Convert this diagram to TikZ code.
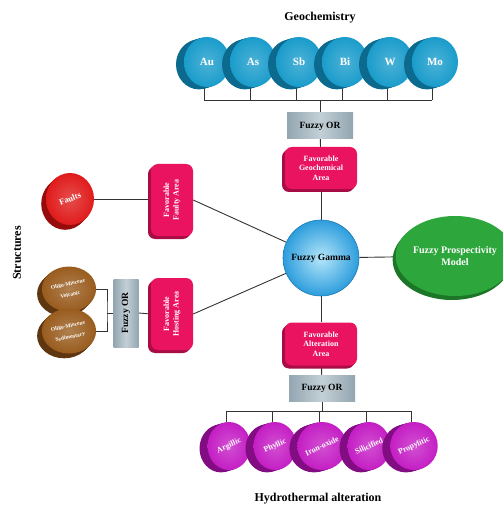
\documentclass[tikz,border=0pt]{standalone}
\usepackage{fontspec}
\setmainfont{Liberation Serif}
\usetikzlibrary{shapes.geometric,shadows,backgrounds}
\definecolor{geoF}{HTML}{1A9CCB}
\definecolor{geoS}{HTML}{0C6A8F}
\definecolor{pinkF}{HTML}{E9135F}
\definecolor{pinkS}{HTML}{A80C45}
\definecolor{orF}{HTML}{93A6B1}
\definecolor{orL}{HTML}{C3CFD6}
\definecolor{gamF}{HTML}{2C9DDC}
\definecolor{gamL}{HTML}{B5E6FA}
\definecolor{gamD}{HTML}{1C78B8}
\definecolor{grF}{HTML}{2DA73B}
\definecolor{grS}{HTML}{1B7627}
\definecolor{redF}{HTML}{E01B1B}
\definecolor{redS}{HTML}{960C0C}
\definecolor{brF}{HTML}{995C1E}
\definecolor{brS}{HTML}{5E3610}
\definecolor{magF}{HTML}{C41EC4}
\definecolor{magS}{HTML}{820C82}
\definecolor{lineC}{HTML}{333333}
\tikzset{
  sideA/.style={general shadow={fill=#1, shadow xshift=-2pt, shadow yshift=-0.6pt},
               general shadow={fill=#1, shadow xshift=-4pt, shadow yshift=-1.2pt},
               general shadow={fill=#1, shadow xshift=-6pt, shadow yshift=-1.8pt},
               general shadow={fill=#1, shadow xshift=-8pt, shadow yshift=-2.4pt}},
  sideB/.style={general shadow={fill=#1, shadow xshift=-1.2pt, shadow yshift=-1.2pt},
               general shadow={fill=#1, shadow xshift=-2.4pt, shadow yshift=-2.4pt},
               general shadow={fill=#1, shadow xshift=-3.6pt, shadow yshift=-3.6pt},
               general shadow={fill=#1, shadow xshift=-4.8pt, shadow yshift=-4.8pt}},
  face/.style={ellipse, inner sep=0pt, text=white, inner color=#1!78!white, outer color=#1},
  favbox/.style={rectangle, rounded corners=7pt, fill=pinkF, text=white, align=center,
               font=\bfseries\fontsize{8}{9.5}\selectfont, inner sep=0pt,
               general shadow={fill=pinkS, shadow xshift=-1.5pt, shadow yshift=-1.5pt},
               general shadow={fill=pinkS, shadow xshift=-3pt, shadow yshift=-3pt}},
  orbox/.style={rectangle, inner sep=0pt, left color=orF, right color=orF, middle color=orL,
               font=\bfseries\fontsize{9.5}{10}\selectfont, text=black},
  conn/.style={draw=lineC, line width=0.9pt},
  title/.style={font=\bfseries\fontsize{12}{13}\selectfont, text=black}
}
\begin{document}
\begin{tikzpicture}[x=1pt,y=-1pt]
\useasboundingbox (0,0) rectangle (502,510);
% titles
\node[title] (tgeo) at (320,18) {Geochemistry};
\node[title] (thyd) at (318,499) {Hydrothermal alteration};
\node[title, rotate=90] (tstr) at (17,253) {Structures};
% geochemistry discs
\foreach \n/\x in {Au/207,As/253,Sb/299,Bi/345,W/390,Mo/435}
  \node[face=geoF, sideA=geoS, minimum width=46pt, minimum height=50pt,
        font=\bfseries\fontsize{11}{12}\selectfont] (\n) at (\x,62) {\n};
\node[orbox, minimum width=66pt, minimum height=26pt] (orTop) at (320,126) {Fuzzy OR};
\node[favbox, minimum width=72pt, minimum height=42pt] (favGeo) at (321,168) {Favorable\\Geochemical\\Area};
% centre
\node[circle, minimum size=76pt, inner sep=0pt, draw=gamD, line width=0.6pt,
      inner color=gamL, outer color=gamF, font=\bfseries\fontsize{9.5}{10}\selectfont] (gamma) at (321,258) {Fuzzy Gamma};
\node[ellipse, minimum width=108pt, minimum height=80pt, inner sep=0pt, fill=grF, text=white, align=center,
      font=\bfseries\fontsize{10}{11.5}\selectfont,
      general shadow={fill=grS, shadow xshift=-1.5pt, shadow yshift=-2pt},
      general shadow={fill=grS, shadow xshift=-3pt, shadow yshift=-4pt}] (model) at (455,256) {Fuzzy Prospectivity\\Model};
% alteration
\node[favbox, minimum width=72pt, minimum height=43pt] (favAlt) at (321,344) {Favorable\\Alteration\\Area};
\node[orbox, minimum width=66pt, minimum height=26pt] (orBot) at (322,388) {Fuzzy OR};
\foreach \n/\x/\t in {arg/229/Argillic,phy/275/Phyllic,iro/322/Iron-oxide,sil/369/Silicified,pro/414/Propylitic}
  \node[face=magF, sideA=magS, minimum width=43pt, minimum height=48pt,
        font=\bfseries\fontsize{8}{9}\selectfont] (\n) at (\x,446) {\rotatebox{25}{\t}};
% structures
\node[face=redF, sideB=redS, minimum width=48pt, minimum height=52pt,
      font=\bfseries\fontsize{8.5}{9}\selectfont] (faults) at (70,199) {\rotatebox{22}{Faults}};
\node[favbox, minimum width=42pt, minimum height=72pt] (faulty) at (172,200)
  {\rotatebox{90}{\begin{tabular}{@{}c@{}}Favorable\\Faulty Area\end{tabular}}};
\node[favbox, minimum width=42pt, minimum height=72pt] (hosting) at (172,314)
  {\rotatebox{90}{\begin{tabular}{@{}c@{}}Favorable\\Hosting Area\end{tabular}}};
\node[orbox, minimum width=25pt, minimum height=68pt] (orLeft) at (126,313)
  {\rotatebox{90}{Fuzzy OR}};
\node[face=brF, sideB=brS, minimum width=47pt, minimum height=45pt,
      font=\bfseries\fontsize{5.5}{11}\selectfont] (volc) at (69,289)
  {\rotatebox{12}{\begin{tabular}{@{}c@{}}Oligo-Miocene\\Volcanic\end{tabular}}};
\node[face=brF, sideB=brS, minimum width=47pt, minimum height=45pt,
      font=\bfseries\fontsize{5.5}{11}\selectfont] (sed) at (69,331)
  {\rotatebox{12}{\begin{tabular}{@{}c@{}}Oligo-Miocene\\Sedimentary\end{tabular}}};
% connectors
\begin{scope}[on background layer]
  \coordinate (gbar) at (320,100);
  \foreach \n in {Au,As,Sb,Bi,W,Mo} \draw[conn] ([xshift=-3pt]\n.south) -- ([xshift=-3pt]\n.south |- gbar);
  \draw[conn] ([xshift=-3pt]Au.south |- gbar) -- ([xshift=-3pt]Mo.south |- gbar);
  \draw[conn] (gbar) -- (orTop.north);
  \draw[conn] (orTop) -- (favGeo);
  \draw[conn] (favGeo) -- (gamma);
  \draw[conn] (gamma) -- (model);
  \draw[conn] (gamma) -- (favAlt);
  \draw[conn] (favAlt) -- (orBot);
  \coordinate (hbar) at (322,411);
  \draw[conn] (orBot) -- (hbar);
  \foreach \n in {arg,phy,iro,sil,pro} \draw[conn] ([xshift=-3pt]\n.north) -- ([xshift=-3pt]\n.north |- hbar);
  \draw[conn] ([xshift=-3pt]arg.north |- hbar) -- ([xshift=-3pt]pro.north |- hbar);
  \draw[conn] (faults.east) -- (faults.east -| faulty.west);
  \draw[conn] (faulty.east) -- (gamma);
  \draw[conn] (hosting.east) -- (gamma);
  \coordinate (brk) at (107,313);
  \draw[conn] (volc.east) -| (brk) |- (sed.east);
  \draw[conn] (brk) -- (orLeft.west);
  \draw[conn] (orLeft.east) -- (hosting.west);
\end{scope}
\end{tikzpicture}
\end{document}
